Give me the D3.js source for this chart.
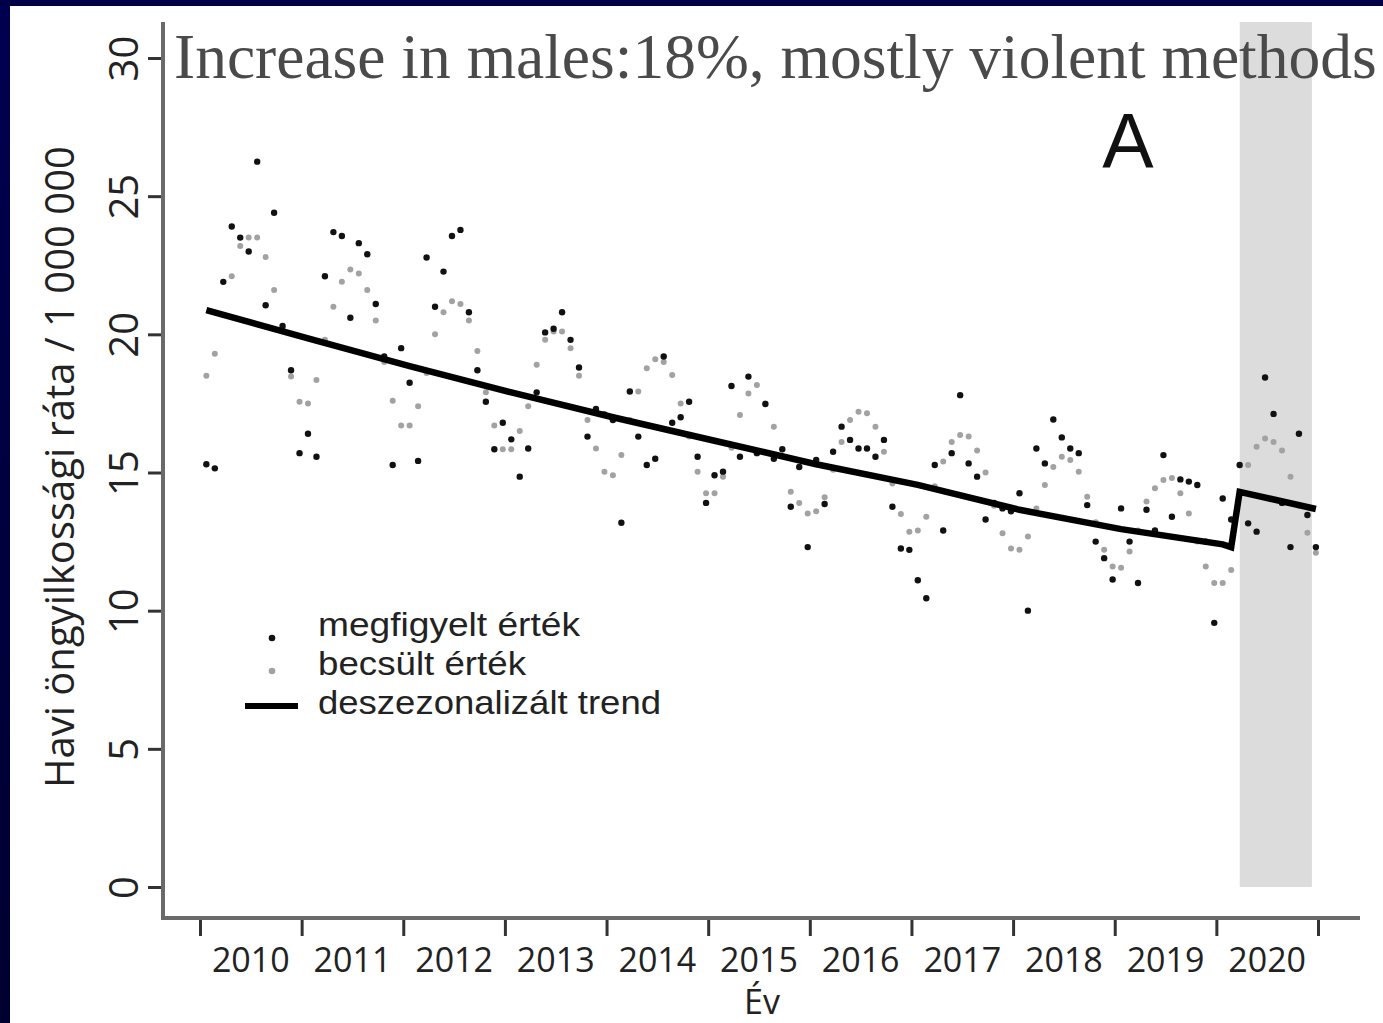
<!DOCTYPE html>
<html><head><meta charset="utf-8">
<script src="https://cdn.jsdelivr.net/npm/d3@7"></script>
<style>
html,body{margin:0;padding:0;background:#fff;overflow:hidden;}
svg{display:block;}
</style></head>
<body>
<svg id="chart" width="1383" height="1023"></svg>
<script>
// ---------- data ----------
const years = [2010,2011,2012,2013,2014,2015,2016,2017,2018,2019,2020];
// observed monthly rate (megfigyelt érték), Jan 2010 .. Dec 2020
const observed = [
  15.3,15.15,21.9,23.9,23.5,23.0,26.25,21.05,24.4,20.3,18.7,15.7,
  16.4,15.57,22.1,23.7,23.56,20.6,23.3,22.9,21.1,19.2,15.27,19.5,
  18.25,15.42,22.78,21.0,22.27,23.56,23.78,20.8,18.7,17.56,15.84,16.8,
  16.2,14.85,15.87,17.9,20.07,20.2,20.8,19.8,18.8,16.3,17.3,17.1,
  16.9,13.18,17.93,16.3,15.27,15.5,19.2,16.8,17.0,17.56,15.57,13.9,
  14.9,15.03,18.13,15.57,18.47,15.7,17.48,15.5,15.84,13.76,15.2,12.3,
  15.45,13.86,15.75,16.66,16.18,15.87,15.87,15.57,16.18,13.76,12.25,12.2,
  11.1,10.45,15.27,12.9,15.7,17.8,15.33,14.85,13.3,13.9,13.7,13.6,
  14.25,10.0,15.87,15.33,16.92,16.27,15.87,15.7,13.82,12.5,11.9,11.13,
  13.7,12.5,11.0,13.65,12.9,15.63,13.4,14.75,14.67,14.55,12.5,9.56,
  14.06,13.3,15.27,13.16,12.86,18.44,17.12,13.9,12.3,16.4,13.46,12.3
];
// estimated monthly rate (becsült érték)
const estimated = [
  18.5,19.3,20.7,22.1,23.2,23.5,23.5,22.8,21.6,20.2,18.47,17.56,
  17.5,18.35,19.8,21.0,21.9,22.35,22.2,21.6,20.5,19.0,17.6,16.7,
  16.7,17.4,18.6,20.0,20.8,21.2,21.1,20.5,19.4,17.9,16.7,15.84,
  15.84,16.5,17.4,18.9,19.8,20.1,20.1,19.5,18.5,16.9,15.87,15.03,
  14.9,15.63,16.9,17.93,18.77,19.1,19.0,18.53,17.5,16.3,15.03,14.25,
  14.25,14.85,15.9,17.08,17.86,18.17,17.5,16.66,15.6,14.3,13.9,13.52,
  13.6,14.1,15.1,16.1,16.9,17.2,17.14,16.66,15.75,14.6,13.5,12.86,
  12.9,13.4,14.5,15.4,16.1,16.36,16.3,15.8,15.0,13.8,12.8,12.25,
  12.2,12.68,13.7,14.55,15.2,15.57,15.45,15.03,14.12,13.2,12.2,11.6,
  11.55,12.14,12.9,13.95,14.43,14.73,14.8,14.25,13.52,12.5,11.6,11.0,
  11.0,11.47,14.3,15.27,15.93,16.23,16.1,15.8,14.85,13.8,12.82,12.1
];
// deseasonalised trend: month index (0 = Jan 2010) and value
const trendMonth = [0,12,24,36,48,60,72,84,96,108,120,121,122,131];
const trendValue = [20.88,19.85,18.85,17.9,17.0,16.15,15.3,14.55,13.65,12.95,12.4,12.3,14.3,13.68];
const yTicks = [0,5,10,15,20,25,30];
const xTickYears = [2010,2011,2012,2013,2014,2015,2016,2017,2018,2019,2020,2021];
const legendLabels = ["megfigyelt érték","becsült érték","deszezonalizált trend"];
const legendWidths = [262,208,343];
const titleText = "Increase in males:18%, mostly violent methods";
const panelLabel = "A";
const xTitle = "Év";
const yTitle = "Havi öngyilkossági ráta / 1 000 000";
const shadeFrom = 2020.23, shadeTo = 2020.94;
const yTop = 31.3;

// ---------- drawing ----------
const svg = d3.select("#chart");
const x = d3.scaleLinear().domain([2010, 2021]).range([200, 1318]);
const y = d3.scaleLinear().domain([0, 30]).range([887, 58]);
const monthX = m => x(2010 + (m + 0.75) / 12);
const FONT = "'Open Sans', 'DejaVu Sans', sans-serif";

const defs = svg.append("defs");
const grad = defs.append("linearGradient").attr("id","navy").attr("x1",0).attr("y1",0).attr("x2",0).attr("y2",1);
grad.append("stop").attr("offset","0%").attr("stop-color","#000050");
grad.append("stop").attr("offset","100%").attr("stop-color","#000030");

svg.append("rect").attr("width",1383).attr("height",1023).attr("fill","#fff");

// shaded period
svg.append("rect")
  .attr("x", x(shadeFrom)).attr("width", x(shadeTo) - x(shadeFrom))
  .attr("y", y(yTop)).attr("height", y(0) - y(yTop))
  .attr("fill", "#dcdcdc");

// title
svg.append("text").attr("x",174).attr("y",78)
  .attr("font-family","'Liberation Serif','Times New Roman',serif")
  .attr("font-size",63.5).attr("fill","#4a4a4a").text(titleText);

// panel label
svg.append("text").attr("x",1128).attr("y",168).attr("text-anchor","middle")
  .attr("font-family","'Liberation Sans',Arial,sans-serif")
  .attr("font-size",77).attr("fill","#111").text(panelLabel);

// points: estimated (gray) then observed (black)
const idx = d3.range(observed.length);
svg.append("g").selectAll("circle").data(idx).join("circle")
  .attr("cx", i => monthX(i)).attr("cy", i => y(estimated[i]))
  .attr("r", 3.0).attr("fill", "#a2a2a2");
svg.append("g").selectAll("circle").data(idx).join("circle")
  .attr("cx", i => monthX(i)).attr("cy", i => y(observed[i]))
  .attr("r", 3.2).attr("fill", "#111");

// trend line
const line = d3.line().x(d => monthX(d[0])).y(d => y(d[1]));
svg.append("path").datum(trendMonth.map((m,i)=>[m, trendValue[i]]))
  .attr("d", line).attr("fill","none").attr("stroke","#000")
  .attr("stroke-width",6.5).attr("stroke-linejoin","miter");

// axes
const yAxis = svg.append("g").attr("transform","translate(163,0)")
  .call(d3.axisLeft(y).tickValues(yTicks).tickSize(15).tickPadding(0));
yAxis.select(".domain").remove();
yAxis.selectAll(".tick line").attr("stroke","#333").attr("stroke-width",3);
yAxis.selectAll(".tick text")
  .attr("x", null).attr("dy", null)
  .attr("text-anchor","middle")
  .attr("transform","translate(-25,0) rotate(-90)")
  .attr("font-family",FONT).attr("font-size",40).attr("fill","#222");

const xAxis = svg.append("g").attr("transform","translate(0,918)")
  .call(d3.axisBottom(x).tickValues(xTickYears).tickSize(18).tickFormat(""));
xAxis.select(".domain").remove();
xAxis.selectAll(".tick line").attr("stroke","#333").attr("stroke-width",3);

svg.append("g").selectAll("text").data(years).join("text")
  .attr("x", d => x(d + 0.5)).attr("y", 972)
  .attr("text-anchor","middle").attr("font-family",FONT)
  .attr("font-size",34).attr("fill","#222").text(d => d);

// axis lines
svg.append("line").attr("x1",163).attr("x2",163).attr("y1",y(yTop)).attr("y2",920)
  .attr("stroke","#6a6a6a").attr("stroke-width",4);
svg.append("line").attr("x1",161).attr("x2",1360).attr("y1",918).attr("y2",918)
  .attr("stroke","#6a6a6a").attr("stroke-width",4);

// axis titles
svg.append("text").attr("x",762).attr("y",1014).attr("text-anchor","middle")
  .attr("font-family",FONT).attr("font-size",34).attr("fill","#222").text(xTitle);
svg.append("text").attr("transform","translate(74,467) rotate(-90)")
  .attr("text-anchor","middle").attr("font-family",FONT)
  .attr("font-size",40).attr("fill","#222").text(yTitle);

// legend
const lg = svg.append("g");
lg.append("circle").attr("cx",272).attr("cy",638).attr("r",3.3).attr("fill","#111");
lg.append("circle").attr("cx",272).attr("cy",671).attr("r",3.3).attr("fill","#a2a2a2");
lg.append("line").attr("x1",245).attr("x2",298).attr("y1",706).attr("y2",706)
  .attr("stroke","#000").attr("stroke-width",6);
lg.selectAll("text").data(legendLabels).join("text")
  .attr("x",318).attr("y",(d,i)=>636 + i*39)
  .attr("font-family","'Liberation Sans',Arial,sans-serif")
  .attr("font-size",33.5).attr("fill","#222")
  .attr("textLength",(d,i)=>legendWidths[i]).attr("lengthAdjust","spacingAndGlyphs")
  .text(d=>d);

// slide border (navy)
svg.append("rect").attr("x",0).attr("y",0).attr("width",10).attr("height",1023).attr("fill","url(#navy)");
svg.append("rect").attr("x",0).attr("y",0).attr("width",1383).attr("height",6).attr("fill","#000048");
</script>
</body></html>
